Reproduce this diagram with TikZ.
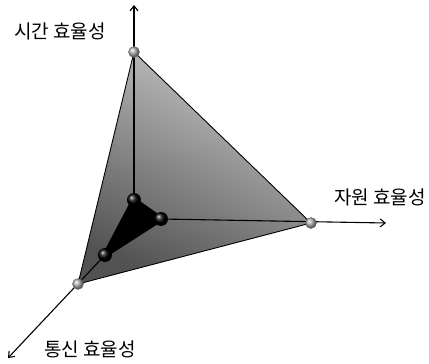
\documentclass[tikz,border=0pt]{standalone}
\usepackage{fontspec}
\newfontfamily\kofont{Noto Sans CJK KR}
\usetikzlibrary{arrows.meta}
\colorlet{facelight}{black!22}
\colorlet{facedark}{black!68}
\colorlet{outerball}{black!30}
\colorlet{innerball}{black}

\begin{document}
\begin{tikzpicture}[x=1pt, y=-1pt, font=\kofont\fontsize{19}{21}\selectfont,
    axis/.style={line width=1.1pt, -{Straight Barb[length=5pt, width=8pt]}},
    rim/.style={line width=0.9pt, line join=round},
    outer/.style={circle, draw=black!60, thin, inner sep=0pt, minimum size=11pt, ball color=outerball},
    inner/.style={circle, inner sep=0pt, minimum size=14pt, ball color=innerball}]
  \useasboundingbox (0,0) rectangle (429,364);
  % corners of the big face, of the small triangle, and the free ends of the axes
  \coordinate (t) at (134,52);
  \coordinate (r) at (311,223);
  \coordinate (l) at (78,284);
  \coordinate (it) at (134,200);
  \coordinate (ir) at (161,219);
  \coordinate (il) at (105,255);
  \coordinate (tend) at (134,5);
  \coordinate (rend) at (386,223);
  \coordinate (lend) at (8,358);
  % face
  \shade[top color=facelight, bottom color=facedark, shading angle=-25] (t) -- (r) -- (l) -- cycle;
  \filldraw[innerball, line width=5pt, line join=round] (it) -- (ir) -- (il) -- cycle;
  % axes
  \draw[axis] (it) -- (tend);
  \draw[axis] (ir) -- (rend);
  \draw[axis] (il) -- (lend);
  \draw[rim] (t) -- (r) -- (l) -- cycle;
  % balls on top
  \foreach \c in {t,r,l}
    \node[outer] (\c ball) at (\c) {};
  \foreach \c in {it,ir,il}
    \node[inner] (\c ball) at (\c) {};
  % labels
  \node (tlab) at (60,31) {시간 효율성};
  \node (rlab) at (380,197) {자원 효율성};
  \node (llab) at (90,349) {통신 효율성};
\end{tikzpicture}
\end{document}
